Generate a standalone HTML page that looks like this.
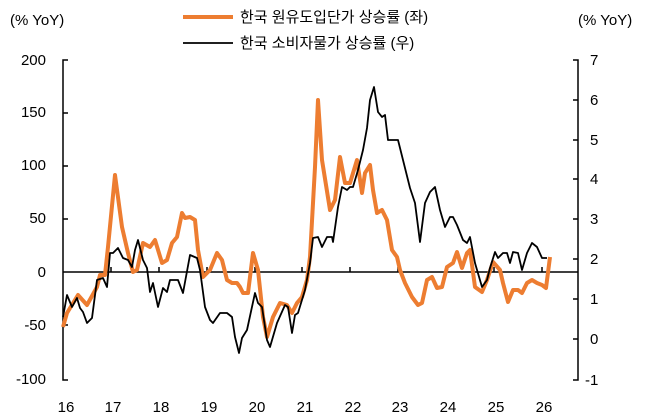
<!DOCTYPE html>
<html><head><meta charset="utf-8"><style>
body{margin:0;background:#fff;}
svg{display:block;font-family:"Liberation Sans","Noto Sans CJK KR",sans-serif;}
</style></head><body>
<svg width="651" height="420" viewBox="0 0 651 420" xmlns="http://www.w3.org/2000/svg">
<g font-size="15" fill="#000">
<text x="10" y="25">(% YoY)</text>
<text x="578" y="25">(% YoY)</text>
<line x1="183" y1="17" x2="233" y2="17" stroke="#ED7D31" stroke-width="4"/>
<text x="240" y="22">한국 원유도입단가 상승률 (좌)</text>
<line x1="183" y1="43" x2="233" y2="43" stroke="#000" stroke-width="1.8"/>
<text x="240" y="48">한국 소비자물가 상승률 (우)</text>
<g text-anchor="end">
<text x="46" y="65">200</text><text x="46" y="117">150</text><text x="46" y="170">100</text>
<text x="46" y="223">50</text><text x="46" y="277">0</text><text x="46" y="330">-50</text><text x="46" y="384">-100</text>
</g>
<g text-anchor="start">
<text x="590" y="65">7</text><text x="590" y="105">6</text><text x="590" y="145">5</text><text x="590" y="184">4</text>
<text x="590" y="224">3</text><text x="590" y="264">2</text><text x="590" y="304">1</text><text x="590" y="344">0</text><text x="585" y="385">-1</text>
</g>
<g text-anchor="middle">
<text x="66" y="412">16</text><text x="113" y="412">17</text><text x="161" y="412">18</text><text x="209" y="412">19</text>
<text x="257" y="412">20</text><text x="305" y="412">21</text><text x="353" y="412">22</text><text x="400" y="412">23</text>
<text x="448" y="412">24</text><text x="496" y="412">25</text><text x="544" y="412">26</text>
</g>
</g>
<g stroke="#000" stroke-width="1.5" fill="none">
<path d="M68 60H63V380H68M63 113H68M63 166H68M63 219H68M63 325H68"/>
<path d="M573 60H578V380H573M573 100H578M573 140H578M573 179H578M573 219H578M573 259H578M573 299H578M573 339H578"/>
<line x1="63" y1="272" x2="578" y2="272"/>
<path d="M111 272V267M159 272V267M207 272V267M255 272V267M302 272V267M350 272V267M398 272V267M446 272V267M494 272V267M542 272V267"/>
</g>
<polyline fill="none" stroke="#ED7D31" stroke-width="4" stroke-linejoin="round" points="63,327 67,313 78,295 87,305 97,287 100,275 105,275 108,247 115,175 122,227 128,253 133,272 137,270 143,243 150,247 155,240 162,263 167,260 172,243 177,237 182,213 185,218 190,217 195,220 198,250 203,277 210,270 217,253 222,260 227,280 232,283 237,283 240,287 243,293 248,293 253,253 258,270 263,317 267,337 273,317 280,303 287,305 292,313 297,303 302,297 307,280 310,257 315,167 318,100 322,160 330,210 335,200 340,157 345,183 350,183 357,160 362,193 365,173 370,165 373,190 377,213 382,210 387,220 392,250 397,257 400,270 405,283 412,297 418,305 422,303 427,280 432,277 437,288 442,287 447,267 453,263 457,252 462,268 467,253 470,250 475,287 482,292 487,280 493,262 500,270 503,283 508,302 513,290 518,290 522,293 527,283 532,280 537,283 542,285 546,288 550,257"/>
<polyline fill="none" stroke="#000" stroke-width="1.8" stroke-linejoin="round" points="63,317 67,295 72,307 77,298 80,308 83,312 87,323 92,318 97,280 103,278 107,287 110,253 113,253 118,248 123,258 128,260 132,267 135,250 138,240 143,260 147,268 150,292 153,283 158,307 163,288 167,292 170,280 178,280 183,293 190,255 197,258 200,270 205,307 210,320 213,323 220,313 227,313 232,317 235,337 239,353 242,338 247,330 255,293 258,303 262,307 267,340 270,347 277,323 285,305 288,307 292,333 295,315 298,313 305,290 310,263 313,238 318,237 322,247 327,237 332,237 333,242 338,207 342,187 347,190 350,187 353,187 358,170 363,150 367,128 370,100 374,87 378,112 382,117 385,115 388,140 398,140 403,160 410,188 415,203 420,242 425,203 430,192 435,187 440,210 445,227 450,217 453,217 457,225 463,240 467,243 470,237 475,263 482,287 487,280 490,268 495,252 498,258 503,253 507,253 510,263 513,252 518,253 522,270 527,253 532,243 537,247 542,258 547,258"/>
</svg>
</body></html>
